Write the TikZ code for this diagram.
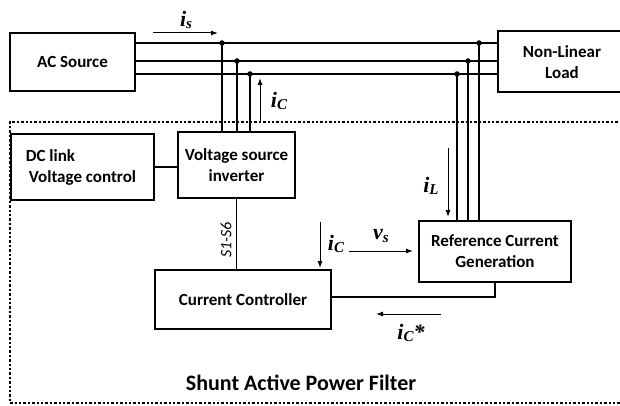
\documentclass[tikz,border=0pt]{standalone}
\usepackage{fontspec}
\setmainfont{Carlito}
\newfontfamily\lblfont{Liberation Serif}
\usetikzlibrary{arrows.meta}
\newcommand\curr[2]{{\lblfont\bfseries\itshape\fontsize{22}{22}\selectfont #1\raisebox{-0.12em}{\fontsize{15}{15}\selectfont #2}}}
\begin{document}
\begin{tikzpicture}[x=1pt,y=-1pt,
  blk/.style={draw,line width=2.6pt,align=center,inner sep=0pt,
    font=\fontsize{17}{21}\selectfont\bfseries},
  wire/.style={line width=1.9pt},
  sig/.style={line width=1pt,-{Latex[length=7pt,width=5pt]}},
  jdot/.style={circle,fill=black,inner sep=0pt,minimum size=5.5pt},
  dotline/.style={line width=2.6pt,dash pattern=on 2.4pt off 2pt},
  lbl/.style={inner sep=0pt}]
\useasboundingbox (0,0) rectangle (620,406);

% blocks
\node[blk,minimum width=125pt,minimum height=58pt] (ac) at (72.5,62) {AC Source};
\node[blk,minimum width=143pt,minimum height=66pt,align=left] (dc) at (82.5,167) {\hspace*{-3pt}DC link\\Voltage control};
\node[blk,minimum width=117pt,minimum height=66pt] (vsi) at (236.5,165) {Voltage source\\inverter};
\node[blk,minimum width=152pt,minimum height=61pt] (rcg) at (495,251.5) {Reference Current\\Generation};
\node[blk,minimum width=176pt,minimum height=59pt] (cc) at (243,299.5) {Current Controller};
% load (open on the right, cut by the page edge)
\draw[line width=2.6pt] (622,31) -- (498,31) -- (498,92) -- (622,92);
\node[align=center,inner sep=0pt,font=\fontsize{17}{21}\selectfont\bfseries] (load) at (562,62) {Non-Linear\\Load};

% junctions
\coordinate (j1) at (222,43);
\coordinate (j2) at (237,61);
\coordinate (j3) at (250,74);
\coordinate (k1) at (479,43);
\coordinate (k2) at (468,61);
\coordinate (k3) at (457,74);
\coordinate (lw1) at (498,43);
\coordinate (lw2) at (498,61);
\coordinate (lw3) at (498,74);

% three-phase lines
\draw[wire] (ac.east |- j1) -- (j1) -- (k1) -- (lw1);
\draw[wire] (ac.east |- j2) -- (j2) -- (k2) -- (lw2);
\draw[wire] (ac.east |- j3) -- (j3) -- (k3) -- (lw3);
\draw[wire] (j1) -- (j1 |- vsi.north);
\draw[wire] (j2) -- (j2 |- vsi.north);
\draw[wire] (j3) -- (j3 |- vsi.north);
\draw[wire] (k1) -- (k1 |- rcg.north);
\draw[wire] (k2) -- (k2 |- rcg.north);
\draw[wire] (k3) -- (k3 |- rcg.north);
\foreach \p in {j1,j2,j3,k1,k2,k3} \node[jdot] at (\p) {};

% internal connections
\draw[wire] (dc.east) -- (dc.east -| vsi.west);
\draw[wire] (vsi.south) -- (vsi.south |- cc.north);
\draw[wire] (rcg.south) |- ([yshift=2.5pt]cc.east);

% signal arrows
\coordinate (isA) at (153,33); \coordinate (isB) at (218,33);
\draw[sig] (isA) -- (isB);
\node[lbl] (isL) at (186,20) {\curr{i}{s}};
\coordinate (icA) at (260,123); \coordinate (icB) at (260,78);
\draw[sig] (icA) -- (icB);
\node[lbl] (icL) at (279,101) {\curr{i}{C}};
\coordinate (ilA) at (448,148); \coordinate (ilB) at (448,217);
\draw[sig] (ilA) -- (ilB);
\node[lbl] (ilL) at (431,186) {\curr{i}{L}};
\coordinate (vsA) at (349,251); \coordinate (vsB) at (413,251);
\draw[sig] (vsA) -- (vsB);
\node[lbl] (vsL) at (381,236) {\curr{v}{s}};
\coordinate (ic2A) at (320,222); \coordinate (ic2B) at (320,268);
\draw[sig] (ic2A) -- (ic2B);
\node[lbl] (ic2L) at (336,244) {\curr{i}{C}};
\coordinate (icsA) at (441,314); \coordinate (icsB) at (376,314);
\draw[sig] (icsA) -- (icsB);
\node[lbl] (icsL) at (411,333) {\curr{i}{C}{\lblfont\bfseries\itshape\fontsize{22}{22}\selectfont*}};

\node[lbl,rotate=90,font=\fontsize{16}{16}\selectfont\itshape] (sw) at (226,240) {S1-S6};

% filter boundary
\draw[dotline] (622,122) -- (10,122) -- (10,403) -- (622,403);
\node[lbl,font=\fontsize{22}{22}\selectfont\bfseries] (title) at (301,383) {Shunt Active Power Filter};
\end{tikzpicture}
\end{document}
